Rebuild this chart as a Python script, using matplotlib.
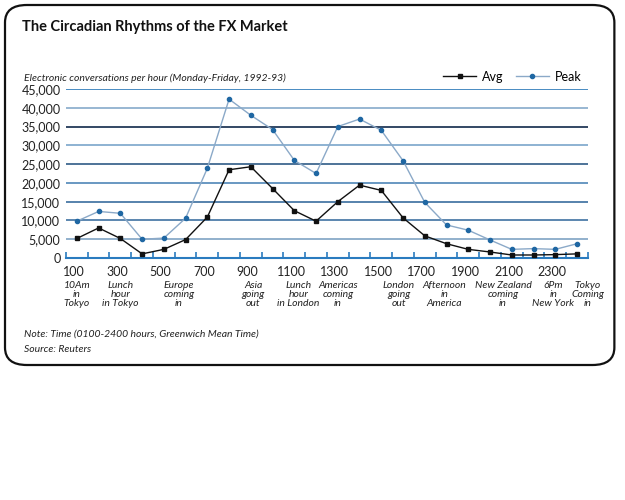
import matplotlib.pyplot as plt
import numpy as np
from matplotlib.patches import FancyBboxPatch

# Data
hours = list(range(1, 25))
avg = [5200, 8000, 5200, 1100, 2300, 4900, 10900, 23500, 24300, 18500, 12600, 9800,
       15000, 19400, 18000, 10700, 5900, 3800, 2300, 1600, 800, 800, 900, 1100]
peak = [9800, 12400, 11900, 5000, 5300, 10600, 23900, 42300, 38000, 34200, 26000, 22500,
        35000, 37000, 34000, 25900, 14800, 8800, 7400, 4800, 2300, 2500, 2300, 3800]

tick_pos = [1, 3, 5, 7, 9, 11, 13, 15, 17, 19, 21, 23]
tick_labels = ["100", "300", "500", "700", "900", "1100", "1300", "1500", "1700",
               "1900", "2100", "2300"]

event_pos = [1, 3, 5.7, 9.1, 11.2, 13, 15.8, 17.9, 20.6, 22.9, 24.5]
event_labels = ["10Am\nin\nTokyo", "Lunch\nhour\nin Tokyo", "Europe\ncoming\nin",
                "Asia\ngoing\nout", "Lunch\nhour\nin London", "Americas\ncoming\nin",
                "London\ngoing\nout", "Afternoon\nin\nAmerica", "New Zealand\ncoming\nin",
                "6Pm\nin\nNew York", "Tokyo\nComing\nin"]

grid_vals = [5000, 10000, 15000, 20000, 25000, 30000, 35000, 40000, 45000]
grid_cols = ["#7fa3c4", "#3f72a2", "#3a6d9e", "#4f86b8", "#2f5b86", "#7aa6cb",
             "#10294a", "#86aacb", "#2a78b8"]

plt.rcParams['font.family'] = ['Lato', 'DejaVu Sans']

fig = plt.figure(figsize=(6.25, 5), dpi=100)

# cadre arrondi
frame = FancyBboxPatch((0.008, 0.27), 0.975, 0.72,
                       boxstyle="round,pad=0,rounding_size=0.035",
                       transform=fig.transFigure, fill=False,
                       edgecolor="#111111", linewidth=1.6)
fig.patches.append(frame)

ax = fig.add_axes([0.1056, 0.484, 0.835, 0.338])

for v, c in zip(grid_vals, grid_cols):
    ax.axhline(v, color=c, linewidth=1.2, zorder=1)

ax.plot(hours, peak, color="#8ba9c8", linewidth=1.0, marker="o", markersize=3,
        markerfacecolor="#1f67a3", markeredgecolor="#1f67a3", label="Peak", zorder=3)
ax.plot(hours, avg, color="#111111", linewidth=1.0, marker="s", markersize=3,
        markerfacecolor="#111111", markeredgecolor="#111111", label="Avg", zorder=4)

ax.set_xlim(0.5, 24.5)
ax.set_ylim(0, 45000)
ax.set_yticks([0] + grid_vals)
ax.set_yticklabels([f"{v:,}" for v in [0] + grid_vals], fontsize=9, color="#222222")

ax.set_xticks([x + 0.5 for x in range(0, 25)])
ax.set_xticklabels([])
ax.tick_params(axis="x", direction="in", length=4, color="#2a7bbf", width=1.2)
ax.tick_params(axis="y", length=0, pad=4)

for s in ["top", "right", "left"]:
    ax.spines[s].set_visible(False)
ax.spines["bottom"].set_color("#2a7bbf")
ax.spines["bottom"].set_linewidth(1.5)

for p, t in zip(tick_pos, tick_labels):
    ax.text(p - 0.15, -2200, t, ha="center", va="top", fontsize=9, color="#222222")

for p, t in zip(event_pos, event_labels):
    ax.text(p, -6000, t, ha="center", va="top", fontsize=7.5, style="italic",
            color="#222222", linespacing=1.05)

handles, labels = ax.get_legend_handles_labels()
ax.legend(handles[::-1], labels[::-1], ncol=2, frameon=False, loc="lower right",
          bbox_to_anchor=(1.0, 1.0), fontsize=9, handlelength=2.6, columnspacing=1.0,
          handletextpad=0.5, borderaxespad=0.1)

fig.text(0.035, 0.945, "The Circadian Rhythms of the FX Market", fontsize=10.5,
         fontweight="bold", color="#111111", ha="left", va="center")
fig.text(0.038, 0.843, "Electronic conversations per hour (Monday-Friday, 1992-93)",
         fontsize=7.5, style="italic", color="#222222", ha="left", va="center")
fig.text(0.038, 0.332, "Note: Time (0100-2400 hours, Greenwich Mean Time)",
         fontsize=7.5, style="italic", color="#222222", ha="left", va="center")
fig.text(0.038, 0.302, "Source: Reuters",
         fontsize=7.5, style="italic", color="#222222", ha="left", va="center")

fig.savefig("out.png", dpi=100, facecolor="white")
